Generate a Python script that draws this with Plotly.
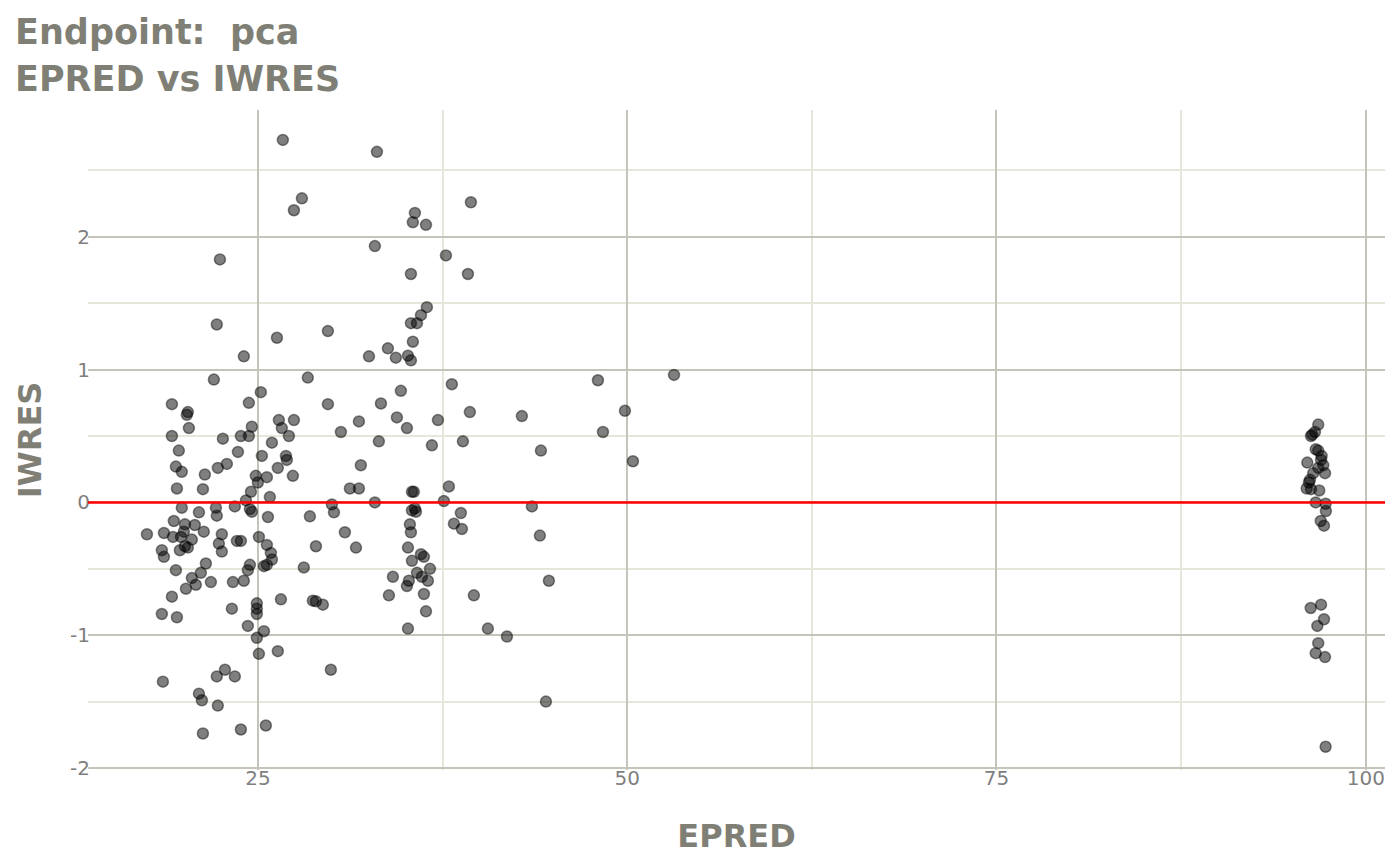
import plotly.graph_objects as go

# EPRED (x) and IWRES (y)
epred_low = [
    17.49, 18.50, 18.64, 18.50, 18.57, 18.64, 19.18, 19.18, 19.31, 19.25,
    19.18, 19.45, 19.52, 19.45, 19.52, 19.65, 19.85, 19.85, 19.79, 19.72,
    20.06, 19.99, 20.06, 20.26, 20.13, 20.26, 20.19, 20.33, 20.53, 20.53,
    20.73, 20.80, 21.01, 21.01, 21.21, 21.14, 21.28, 21.28, 21.41, 21.34,
    21.48, 21.82, 22.02, 22.16, 22.22, 22.22, 22.29, 22.22, 22.29, 22.36,
    22.43, 22.56, 22.56, 22.63, 22.77, 22.90, 23.24, 23.31, 23.44, 23.44,
    23.58, 23.65, 23.85, 23.85, 23.85, 24.05, 24.05, 24.19, 24.32, 24.39,
    24.46, 24.39, 24.32, 24.59, 24.53, 24.46, 24.59, 24.86, 25.00, 24.93,
    24.93, 24.93, 24.93, 25.07, 25.07, 25.20, 25.27, 25.41, 25.41, 25.61,
    25.54, 25.61, 25.61, 25.68, 25.81, 25.95, 25.88, 25.95, 26.29, 26.35,
    26.35, 26.42, 26.56, 26.62, 26.69, 26.90, 26.96, 27.10, 27.37, 27.44,
    27.44, 27.98, 28.11, 28.38, 28.52, 28.72, 28.93, 28.93, 29.40, 29.74,
    29.74, 29.94, 30.01, 30.15, 30.62, 30.89, 31.23, 31.64, 31.84, 31.84,
    31.97, 32.52, 33.06, 32.92, 32.92, 33.19, 33.33, 33.80, 33.87, 34.14,
    34.34, 34.41, 34.68, 35.09, 35.16, 35.16, 35.09, 35.16, 35.29, 35.36,
    35.36, 35.36, 35.22, 35.36, 35.49, 35.43, 35.43, 35.43, 35.63, 35.49,
    35.56, 35.63, 35.70, 35.77, 35.77, 36.04, 36.04, 36.10, 36.24, 36.24,
    36.38, 36.38, 36.44, 36.51, 36.65, 36.78, 37.19, 37.59, 37.73, 37.93,
    38.13, 38.27, 38.74, 38.81, 38.88, 39.22, 39.42, 39.35, 39.62, 40.57,
    41.86, 42.87, 43.55, 44.16, 44.09, 44.50, 44.70, 48.02, 48.36, 49.85,
    50.39, 53.17,
]
iwres_low = [
    -0.24, -0.36, -0.41, -0.84, -1.35, -0.23, 0.74, 0.50, -0.14, -0.26,
    -0.71, 0.27, 0.105, -0.51, -0.865, 0.39, 0.23, -0.04, -0.26, -0.36,
    -0.165, -0.22, -0.33, -0.34, -0.65, 0.68, 0.66, 0.56, -0.28, -0.57,
    -0.17, -0.62, -0.075, -1.44, -1.49, -0.53, 0.10, -1.74, 0.21, -0.22,
    -0.46, -0.60, 0.925, -0.04, -0.10, 1.34, 0.26, -1.31, -1.53, -0.31,
    1.83, -0.37, -0.24, 0.48, -1.26, 0.29, -0.80, -0.60, -0.03, -1.31,
    -0.29, 0.38, -1.71, -0.29, 0.50, 1.10, -0.59, 0.015, -0.93, 0.75,
    -0.05, 0.50, -0.51, -0.07, 0.08, -0.47, 0.57, 0.20, 0.15, -0.76,
    -0.80, -0.84, -1.02, -0.26, -1.14, 0.83, 0.35, -0.97, -0.48, 0.19,
    -1.68, -0.32, -0.47, -0.11, 0.04, 0.45, -0.38, -0.43, 1.24, 0.26,
    -1.12, 0.62, -0.73, 0.56, 2.73, 0.35, 0.32, 0.50, 0.20, 0.62,
    2.20, 2.29, -0.49, 0.94, -0.105, -0.74, -0.745, -0.33, -0.77, 1.29,
    0.74, -1.26, -0.015, -0.075, 0.53, -0.225, 0.105, -0.34, 0.105, 0.61,
    0.28, 1.10, 2.64, 1.93, 0.00, 0.46, 0.745, 1.16, -0.70, -0.56,
    1.09, 0.64, 0.84, 0.56, 1.105, -0.34, -0.63, -0.95, -0.165, 1.72,
    1.07, -0.225, -0.59, 1.35, 2.11, -0.44, -0.06, 0.08, 2.18, 1.21,
    0.08, -0.045, -0.07, 1.35, -0.53, 1.41, -0.39, -0.56, -0.69, -0.41,
    -0.82, 2.09, 1.47, -0.59, -0.50, 0.43, 0.62, 0.01, 1.86, 0.12,
    0.89, -0.16, -0.08, -0.20, 0.46, 1.72, 2.26, 0.68, -0.70, -0.95,
    -1.01, 0.65, -0.03, 0.39, -0.25, -1.50, -0.59, 0.92, 0.53, 0.69,
    0.31, 0.96,
]
epred_high = [
    96.78, 96.56, 96.38, 96.29, 96.61, 96.78, 97.01, 96.97, 96.04, 97.12,
    96.78, 97.24, 96.44, 96.22, 96.15, 96.00, 96.29, 96.85, 96.61, 97.28,
    97.30, 96.95, 97.17, 96.97, 96.27, 97.17, 96.72, 96.78, 96.61, 97.24,
    97.28,
]
iwres_high = [
    0.586, 0.53, 0.51, 0.50, 0.40, 0.39, 0.35, 0.32, 0.30, 0.28,
    0.26, 0.22, 0.22, 0.17, 0.15, 0.105, 0.10, 0.09, 0.00, -0.01,
    -0.065, -0.14, -0.175, -0.77, -0.795, -0.88, -0.93, -1.06, -1.135, -1.165,
    -1.84,
]

epred = epred_low + epred_high
iwres = iwres_low + iwres_high

x_ticks = [25, 50, 75, 100]
y_ticks = [-2, -1, 0, 1, 2]
x_minor = [12.5, 37.5, 62.5, 87.5]
y_minor = [-1.5, -0.5, 0.5, 1.5, 2.5]
ref_line = 0

title_lines = ["Endpoint: \u00a0pca", "EPRED vs IWRES"]
x_title = "EPRED"
y_title = "IWRES"

TITLE_COLOR = "#7f7f76"
TICK_COLOR = "#7f7f7f"
MAJOR = "#c4c4ba"
MINOR = "#e6e6da"
FONT = "DejaVu Sans"

# page body adds an 8px offset; margins compensate
ML, MR, MT, MB = 80, 23, 102, 103
W, H = 1400, 865
PW = W - ML - MR
PH = H - MT - MB

fig = go.Figure()
fig.add_trace(go.Scatter(
    x=epred, y=iwres, mode="markers",
    marker=dict(size=11, color="rgba(0,0,0,0.5)",
                line=dict(color="rgba(0,0,0,0.45)", width=1.5)),
    showlegend=False, hoverinfo="x+y",
))
fig.add_hline(y=ref_line, line=dict(color="#ff0000", width=2.5))

for txt, ycen in zip(title_lines, [23.5, 70.9]):
    fig.add_annotation(
        text="<b>" + txt + "</b>", showarrow=False,
        xref="paper", yref="paper",
        x=(5 - ML) / PW, xanchor="left",
        y=1 + (MT - ycen) / PH, yanchor="middle",
        font=dict(family=FONT, size=35, color=TITLE_COLOR),
    )

fig.update_layout(
    width=W, height=H,
    paper_bgcolor="white", plot_bgcolor="white",
    margin=dict(l=ML, r=MR, t=MT, b=MB, autoexpand=False),
    font=dict(family=FONT, color=TICK_COLOR),
)
fig.update_xaxes(
    range=[13.5, 101.3], tickvals=x_ticks, ticktext=[str(v) for v in x_ticks],
    showgrid=True, gridcolor=MAJOR, gridwidth=2.2,
    minor=dict(tickvals=x_minor, showgrid=True, gridcolor=MINOR, gridwidth=2),
    zeroline=False, showline=False, ticks="", automargin=False,
    ticklabelstandoff=-6,
    tickfont=dict(family=FONT, size=20, color=TICK_COLOR),
    title=dict(text="<b>" + x_title + "</b>", standoff=35,
               font=dict(family=FONT, size=32, color=TITLE_COLOR)),
)
fig.update_yaxes(
    range=[-2.015, 2.955], tickvals=y_ticks, ticktext=[str(v) for v in y_ticks],
    showgrid=True, gridcolor=MAJOR, gridwidth=2.2,
    minor=dict(tickvals=y_minor, showgrid=True, gridcolor=MINOR, gridwidth=2),
    zeroline=False, showline=False, ticks="", automargin=False,
    ticklabelstandoff=-3,
    tickfont=dict(family=FONT, size=20, color=TICK_COLOR),
    title=dict(text="<b>" + y_title + "</b>", standoff=18,
               font=dict(family=FONT, size=32, color=TITLE_COLOR)),
)

fig.write_html("out.html")
